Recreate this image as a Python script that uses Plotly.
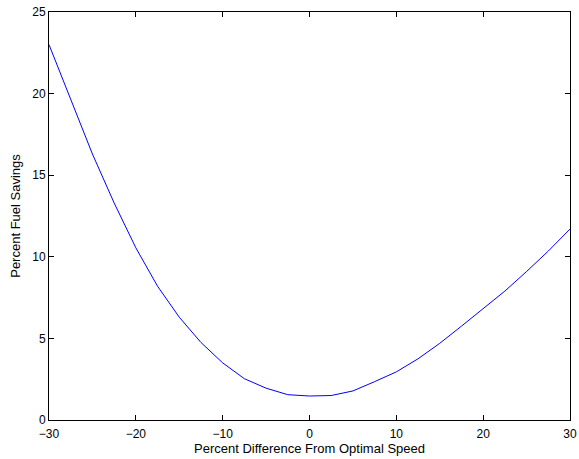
import plotly.graph_objects as go

# Speed deviation from optimum (%) and resulting fuel savings (%)
speed_diff = [-30, -27.5, -25, -22.5, -20, -17.5, -15, -12.5, -10, -7.5, -5, -2.5,
              0, 2.5, 5, 7.5, 10, 12.5, 15, 17.5, 20, 22.5, 25, 27.5, 30]
fuel_savings = [23.0, 19.6, 16.3, 13.3, 10.55, 8.2, 6.3, 4.75, 3.5, 2.53, 1.95, 1.55,
                1.47, 1.5, 1.78, 2.35, 2.95, 3.75, 4.7, 5.75, 6.84, 7.9, 9.1, 10.35, 11.7]

x_ticks = [-30, -20, -10, 0, 10, 20, 30]
y_ticks = [0, 5, 10, 15, 20, 25]

fig = go.Figure()
fig.add_trace(go.Scatter(
    x=speed_diff, y=fuel_savings, mode="lines",
    line=dict(color="#0000ff", width=1), showlegend=False,
))

axis_common = dict(
    showline=True, linecolor="black", linewidth=1, mirror="ticks",
    ticks="inside", ticklen=5, tickcolor="black", tickwidth=1,
    showgrid=False, zeroline=False, automargin=False,
    tickfont=dict(family="Liberation Sans, Arial, sans-serif", size=12, color="black"),
    title_font=dict(family="Liberation Sans, Arial, sans-serif", size=13, color="black"),
)

fig.update_xaxes(range=[-30, 30], tickvals=x_ticks, ticklabelstandoff=3,
                 title_text="Percent Difference From Optimal Speed", title_standoff=3,
                 **axis_common)
fig.update_yaxes(range=[0, 25], tickvals=y_ticks,
                 title_text="Percent Fuel Savings", title_standoff=8,
                 **axis_common)

fig.update_layout(
    width=579, height=459,
    margin=dict(l=49, r=9, t=12, b=39),
    paper_bgcolor="white", plot_bgcolor="white",
)

fig.write_html("out.html")
